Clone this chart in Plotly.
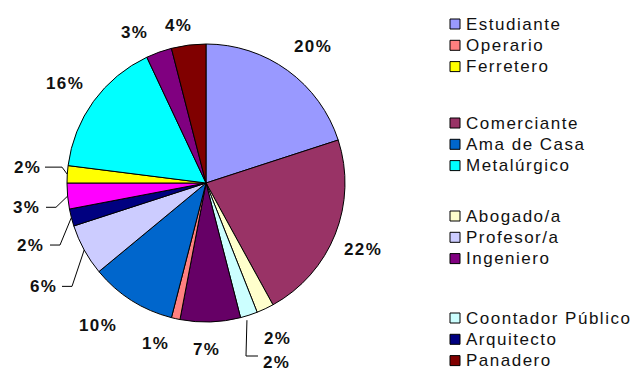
import math
import plotly.graph_objects as go

# Slices in drawing order (clockwise from 12 o'clock)
SLICE_LABELS = [
    "Estudiante", "Comerciante", "Abogado/a", "Coontador Público", "Otro (a)",
    "Operario", "Ama de Casa", "Profesor/a", "Arquitecto", "Otro (b)",
    "Ferretero", "Metalúrgico", "Ingeniero", "Panadero",
]
SLICE_VALUES = [20, 22, 2, 2, 7, 1, 10, 6, 2, 3, 2, 16, 3, 4]
SLICE_COLORS = [
    "#9999FF", "#993366", "#FFFFCC", "#CCFFFF", "#660066",
    "#FF8080", "#0066CC", "#CCCCFF", "#000080", "#FF00FF",
    "#FFFF00", "#00FFFF", "#800080", "#800000",
]

# Legend entries, shown in four blocks of three
LEGEND_GROUPS = [
    ["Estudiante", "Operario", "Ferretero"],
    ["Comerciante", "Ama de Casa", "Metalúrgico"],
    ["Abogado/a", "Profesor/a", "Ingeniero"],
    ["Coontador Público", "Arquitecto", "Panadero"],
]

W, H = 643, 371
CX, CY, R = 206, 183, 139          # pie centre / radius in pixels
LABEL_R = 1.245                    # label distance as a fraction of R

# small nudges (px) applied to the value labels to keep them apart
LABEL_NUDGE = [(5, 4), (-4, 3), (-2, -1), (17, 15), (-5, -6), (-13, -8), (-15, -4),
               (-11, 20), (-8, 19), (-7, 8), (-6, -5), (-1, 2), (-13, 12), (-6, 14)]
# leader lines: slice index -> (kind, elbow x, elbow y, end x)
LEADERS = {
    3: ("down", 246, 356, 258),
    7: ("left", 72, None, 62),
    8: ("left", 60, None, 50),
    9: ("left", 56, None, 46),
    10: ("left", 62, None, 45),
}

def px(x):
    return x / W

def py(y):
    return 1 - y / H

fig = go.Figure()
fig.add_trace(go.Pie(
    labels=SLICE_LABELS,
    values=SLICE_VALUES,
    marker=dict(colors=SLICE_COLORS, line=dict(color="black", width=1)),
    sort=False,
    direction="clockwise",
    rotation=0,
    textinfo="none",
    showlegend=False,
    domain=dict(x=[px(CX - R), px(CX + R)], y=[py(CY + R), py(CY - R)]),
))

annotations = []
shapes = []
total = sum(SLICE_VALUES)
cum = 0
for i, v in enumerate(SLICE_VALUES):
    mid = (cum + v / 2) / total * 2 * math.pi
    cum += v
    sx, sy = math.sin(mid), -math.cos(mid)
    lx = CX + LABEL_R * R * sx + LABEL_NUDGE[i][0]
    ly = CY + LABEL_R * R * sy + LABEL_NUDGE[i][1]
    pct = round(v / total * 100)
    annotations.append(dict(
        x=px(lx), y=py(ly), xref="paper", yref="paper", showarrow=False,
        xanchor="center", yanchor="middle",
        text=f'<span style="letter-spacing:1.4px"><b>{pct}%</b></span>',
        font=dict(family="Liberation Sans", size=17, color="#111111"),
    ))
    if i in LEADERS:
        ex, ey = CX + R * sx, CY + R * sy
        kind, a, b, c = LEADERS[i]
        if kind == "down":
            pts = [(ex - 2, ey + 5), (a, b), (c, b)]
        else:
            pts = [(ex, ey), (a, ly), (c, ly)]
        path = "M " + " L ".join(f"{px(x):.5f},{py(y):.5f}" for x, y in pts)
        shapes.append(dict(type="path", path=path, xref="paper", yref="paper",
                           line=dict(color="black", width=1)))

# legend block
color_of = dict(zip(SLICE_LABELS, SLICE_COLORS))
GROUP_TOP = [24, 123, 216, 318]
STEP = 21.3
for g, names in enumerate(LEGEND_GROUPS):
    for k, name in enumerate(names):
        yc = GROUP_TOP[g] + k * STEP
        shapes.append(dict(type="rect", xref="paper", yref="paper",
                           x0=px(450), x1=px(460), y0=py(yc + 5), y1=py(yc - 5),
                           fillcolor=color_of[name], line=dict(color="black", width=1)))
        annotations.append(dict(
            x=px(464), y=py(yc), xref="paper", yref="paper", showarrow=False,
            xanchor="left", yanchor="middle",
            text=f'<span style="letter-spacing:1.5px">{name}</span>',
            font=dict(family="Liberation Sans", size=17, color="#111111"),
        ))

fig.update_layout(
    width=W, height=H,
    margin=dict(l=0, r=0, t=0, b=0),
    paper_bgcolor="white", plot_bgcolor="white",
    annotations=annotations, shapes=shapes,
    showlegend=False,
)
fig.write_html("out.html")
